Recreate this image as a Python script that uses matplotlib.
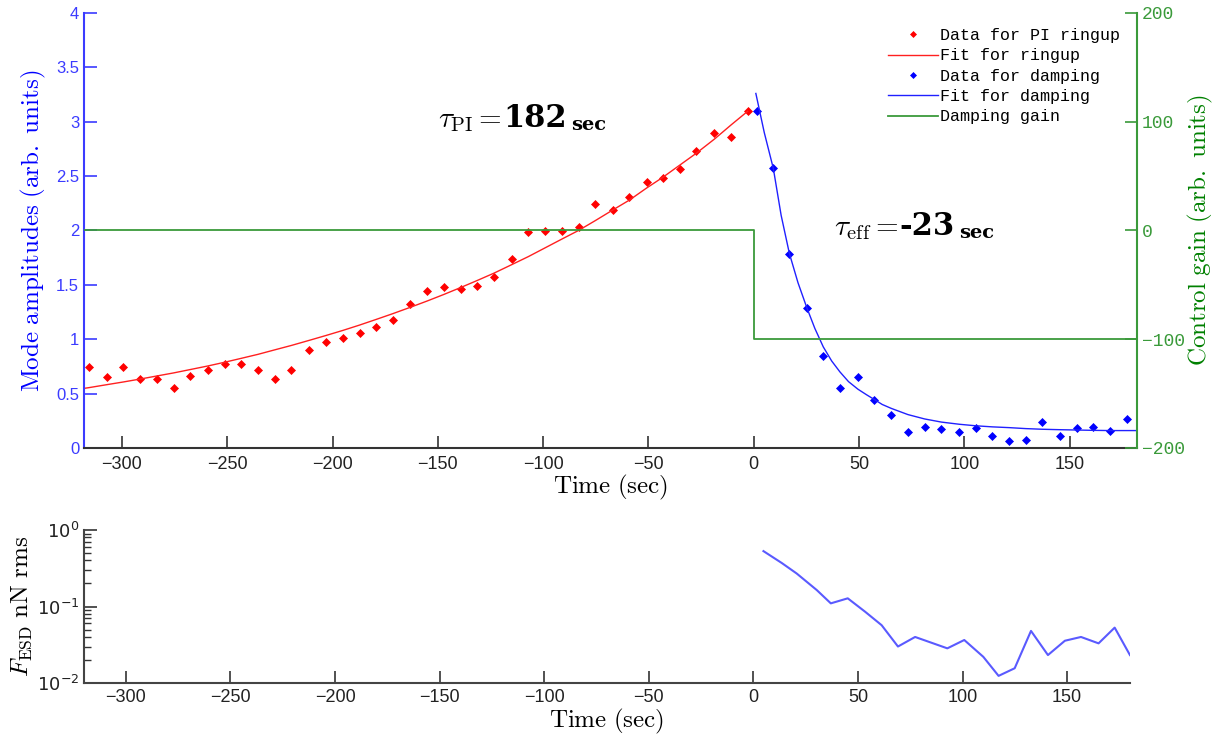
import numpy as np
import matplotlib.pyplot as plt

plt.rcParams['mathtext.fontset'] = 'cm'

# PI ringup data (t < 0)
t_ring = [-315.6, -307.2, -299.3, -291.3, -283.4, -275.5, -267.6, -259.2, -251.3, -243.4,
          -235.4, -227.5, -219.5, -211.0, -203.0, -195.1, -187.2, -179.3, -171.4, -163.0,
          -155.0, -147.1, -139.2, -131.2, -123.3, -114.9, -107.0, -99.1, -91.2, -83.2,
          -75.3, -66.8, -59.0, -50.9, -43.1, -35.2, -27.3, -18.7, -10.8, -2.9]
amp_ring = [0.748, 0.656, 0.748, 0.632, 0.632, 0.552, 0.665, 0.714, 0.775, 0.775,
            0.714, 0.632, 0.714, 0.904, 0.975, 1.008, 1.057, 1.116, 1.174, 1.327,
            1.444, 1.480, 1.459, 1.490, 1.575, 1.738, 1.986, 1.998, 1.998, 2.032,
            2.247, 2.188, 2.305, 2.446, 2.483, 2.566, 2.731, 2.894, 2.863, 3.096]

t_ring_fit = [-318.0] + t_ring
amp_ring_fit = [0.548, 0.555, 0.582, 0.607, 0.634, 0.662, 0.690, 0.721, 0.754, 0.788, 0.824,
                0.861, 0.902, 0.943, 0.990, 1.035, 1.081, 1.130, 1.182, 1.235, 1.294,
                1.352, 1.412, 1.475, 1.541, 1.608, 1.686, 1.760, 1.840, 1.920, 2.000,
                2.090, 2.190, 2.280, 2.390, 2.490, 2.600, 2.710, 2.840, 2.970, 3.096]

# damping data (t > 0)
t_damp = [1.4, 9.3, 16.9, 25.2, 33.0, 40.9, 49.5, 57.3, 65.3, 73.2, 81.1, 89.1,
          97.6, 105.4, 113.3, 121.3, 129.2, 137.1, 145.5, 153.4, 161.3, 169.3, 177.2]
amp_damp = [3.096, 2.575, 1.787, 1.290, 0.846, 0.549, 0.656, 0.441, 0.300, 0.147, 0.196, 0.172,
            0.147, 0.184, 0.113, 0.064, 0.076, 0.242, 0.113, 0.184, 0.196, 0.159, 0.267]

t_damp_fit = [1.0, 5.0, 9.3, 13.0, 16.9, 21.0, 25.2, 29.0, 33.0, 37.0, 40.9, 45.0, 49.5,
              53.5, 57.3, 61.0, 65.3, 73.2, 81.1, 89.1, 97.6, 105.4, 113.3, 121.3, 129.2,
              137.1, 145.5, 153.4, 161.3, 169.3, 177.2, 182.0]
amp_damp_fit = [3.26, 2.90, 2.57, 2.14, 1.79, 1.52, 1.29, 1.10, 0.93, 0.80, 0.70, 0.61, 0.54,
                0.49, 0.445, 0.40, 0.364, 0.307, 0.267, 0.238, 0.218, 0.204, 0.194, 0.187,
                0.178, 0.172, 0.168, 0.165, 0.162, 0.160, 0.160, 0.160]

# damping gain
t_gain = [-318, 0, 182]
gain = [0, -100, -100]

# ESD force
t_force = [4.8, 13.6, 20.7, 30.3, 37.0, 45.1, 53.4, 61.3, 69.1, 77.3, 92.7, 100.8,
           109.9, 117.2, 124.9, 132.7, 140.8, 148.9, 156.6, 165.0, 172.7, 180.0]
force = [0.53, 0.37, 0.27, 0.164, 0.110, 0.128, 0.0855, 0.057, 0.030, 0.040, 0.0284, 0.0365,
         0.022, 0.0124, 0.0156, 0.048, 0.0232, 0.0357, 0.040, 0.033, 0.053, 0.0232]

blue_ax = '#3b3bff'
green = '#3a9a3a'

fig = plt.figure(figsize=(12.25, 7.38), dpi=100)
ax = fig.add_axes([0.0686, 0.393, 0.8596, 0.5894])
ax2 = ax.twinx()

l1, = ax.plot(t_ring, amp_ring, 'D', color='red', ms=3.8, mew=0.5, label='Data for PI ringup')
l2, = ax.plot(t_ring_fit, amp_ring_fit, '-', color='#ff2020', lw=1.0, label='Fit for ringup')
l3, = ax.plot(t_damp, amp_damp, 'D', color='blue', ms=3.8, mew=0.5, label='Data for damping')
l4, = ax.plot(t_damp_fit, amp_damp_fit, '-', color='#2020ff', lw=1.0, label='Fit for damping')
l5, = ax2.plot(t_gain, gain, drawstyle='steps-post', color=green, lw=1.3, label='Damping gain')

ax.set_xlim(-318, 182)
ax.set_ylim(0, 4)
ax2.set_ylim(-200, 200)
ax.set_xticks(np.arange(-300, 151, 50))
ax.set_yticks(np.arange(0, 4.01, 0.5))
ax.set_yticklabels(['0', '0.5', '1', '1.5', '2', '2.5', '3', '3.5', '4'])
ax2.set_yticks([-200, -100, 0, 100, 200])

for a in (ax, ax2):
    a.spines['top'].set_visible(False)
ax.spines['right'].set_visible(False)
ax2.spines['left'].set_visible(False)
ax2.spines['bottom'].set_visible(False)
ax.spines['left'].set_color(blue_ax)
ax.spines['left'].set_linewidth(1.5)
ax.spines['bottom'].set_color('#333333')
ax.spines['bottom'].set_linewidth(1.5)
ax2.spines['right'].set_color(green)
ax2.spines['right'].set_linewidth(1.5)

ax.tick_params(axis='x', direction='in', length=9, width=1.2, color='#333333',
               labelsize=13, labelcolor='#222222', pad=6)
ax.tick_params(axis='y', direction='in', length=9, width=1.2, color=blue_ax,
               labelsize=12, labelcolor=blue_ax)
ax2.tick_params(axis='y', direction='in', length=9, width=1.2, color=green,
                labelsize=13, labelcolor=green)
for lab in ax.get_xticklabels() + ax.get_yticklabels():
    lab.set_family('Liberation Sans')
for lab in ax2.get_yticklabels():
    lab.set_family('Liberation Mono')

ax.set_xlabel(r'$\mathrm{Time\ (sec)}$', fontsize=18, labelpad=0)
ax.set_ylabel(r'$\mathrm{Mode\ amplitudes\ (arb.\ units)}$', fontsize=18, color='blue', labelpad=6)
ax2.set_ylabel(r'$\mathrm{Control\ gain\ (arb.\ units)}$', fontsize=18, color='green', labelpad=1)

# time constant annotations: symbol, bold value, small bold unit
t1 = ax.text(-150, 3.02, r'$\tau_{\rm PI}=$', fontsize=21, va='center')
v1 = ax.annotate('182', xy=(1, 0), xycoords=t1, xytext=(1, 0), textcoords='offset points',
                 fontsize=22, fontweight='bold', family='DejaVu Serif', va='bottom')
ax.annotate('sec', xy=(1, 0), xycoords=v1, xytext=(3, 0), textcoords='offset points',
            fontsize=14, fontweight='bold', family='DejaVu Serif', va='bottom')
t2 = ax.text(38, 2.02, r'$\tau_{\rm eff}=$', fontsize=21, va='center')
v2 = ax.annotate('-23', xy=(1, 0), xycoords=t2, xytext=(1, 0), textcoords='offset points',
                 fontsize=22, fontweight='bold', family='DejaVu Serif', va='bottom')
ax.annotate('sec', xy=(1, 0), xycoords=v2, xytext=(3, 0), textcoords='offset points',
            fontsize=14, fontweight='bold', family='DejaVu Serif', va='bottom')

ax2.legend(handles=[l1, l2, l3, l4, l5], loc='upper right',
           bbox_to_anchor=(1120 / 1225, 1 - 28 / 738), bbox_transform=fig.transFigure,
           frameon=False, prop={'family': 'Liberation Mono', 'size': 12},
           handlelength=3.0, handletextpad=0.1, labelspacing=0.32, borderpad=0,
           borderaxespad=0, markerscale=0.8)

# lower panel
bx = fig.add_axes([0.0686, 0.0745, 0.8538, 0.2073])
bx.semilogy(t_force, force, color='#5a5aff', lw=1.5)
bx.set_xlim(-320, 180)
bx.set_ylim(0.01, 1)
bx.set_xticks(np.arange(-300, 151, 50))
bx.spines['top'].set_visible(False)
bx.spines['right'].set_visible(False)
for s in ('left', 'bottom'):
    bx.spines[s].set_color('#444444')
    bx.spines[s].set_linewidth(1.5)
bx.tick_params(axis='both', which='major', direction='in', length=9, width=1.2,
               color='#333333', labelsize=13, labelcolor='#222222')
bx.tick_params(axis='x', pad=4)
bx.tick_params(axis='y', which='minor', direction='in', length=5, width=1.0, color='#333333')
for lab in bx.get_xticklabels():
    lab.set_family('Liberation Sans')
bx.set_xlabel(r'$\mathrm{Time\ (sec)}$', fontsize=18, labelpad=1)
bx.set_ylabel(r'$F_{\rm ESD}\ \mathrm{nN\ rms}$', fontsize=18, labelpad=2)

fig.savefig('out.png', dpi=100)
